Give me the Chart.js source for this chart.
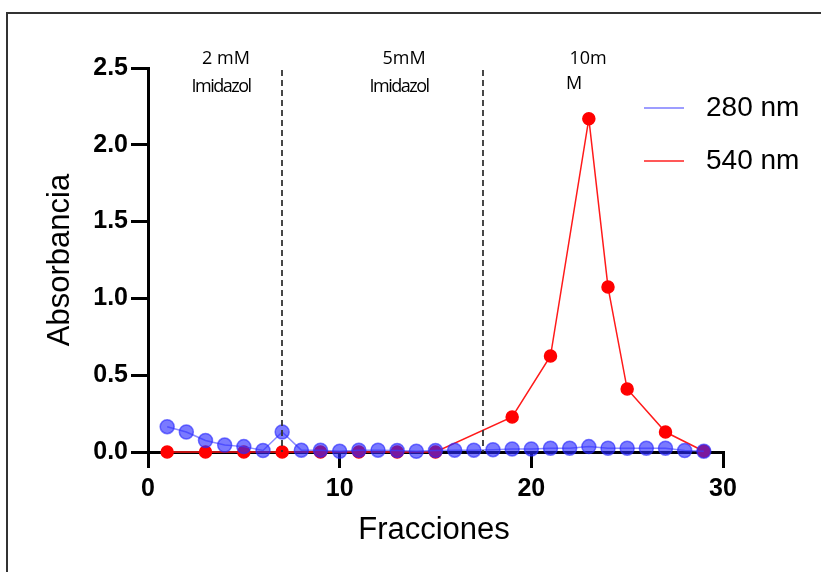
<!DOCTYPE html>
<html>
<head>
<meta charset="utf-8">
<script src="https://cdn.jsdelivr.net/npm/chart.js@4.4.1/dist/chart.umd.min.js"></script>
<style>
  html, body { margin: 0; padding: 0; background: #fff; }
  #wrap { width: 821px; height: 572px; position: relative; }
</style>
</head>
<body>
<div id="wrap"><canvas id="c" width="821" height="572"></canvas></div>
<script>
// fractions and absorbance readings
const fractions280 = [1, 2, 3, 4, 5, 6, 7, 8, 9, 10, 11, 12, 13, 14, 15, 16, 17, 18, 19, 20, 21, 22, 23, 24, 25, 26, 27, 28, 29]
const abs280 = [0.165, 0.13, 0.075, 0.045, 0.035, 0.01, 0.13, 0.012, 0.012, 0.005, 0.012, 0.012, 0.01, 0.005, 0.01, 0.012, 0.012, 0.015, 0.02, 0.02, 0.025, 0.025, 0.035, 0.025, 0.025, 0.025, 0.025, 0.01, 0.005]
const fractions540 = [1, 3, 5, 7, 9, 11, 13, 15, 19, 21, 23, 24, 25, 27, 29]
const abs540 = [0, 0, 0, 0, 0, 0, 0, 0, 0.228, 0.625, 2.17, 1.074, 0.41, 0.13, 0.005]
const yTicks = [0, 0.5, 1.0, 1.5, 2.0, 2.5]
const xTicks = [0, 10, 20, 30]
const dividers = [7, 17.5]
const seriesNames = ['280 nm', '540 nm']

const tickFont = { family: 'Liberation Sans, Arial, sans-serif', size: 25, weight: 'bold' }
const titleFont = '31px "Liberation Sans", Arial, sans-serif'

const toPoints = (xs, ys) => xs.map((x, i) => ({ x, y: ys[i] }))

const extras = {
  id: 'extras',
  beforeDraw(chart) {
    const ctx = chart.ctx
    ctx.save()
    ctx.strokeStyle = '#333'
    ctx.lineWidth = 2
    ctx.beginPath()
    ctx.moveTo(7, 572)
    ctx.lineTo(7, 13)
    ctx.lineTo(821, 13)
    ctx.stroke()
    ctx.restore()
  },
  afterDatasetsDraw(chart) {
    const ctx = chart.ctx
    const xs = chart.scales.x
    const ys = chart.scales.y
    ctx.save()
    ctx.strokeStyle = '#333'
    ctx.lineWidth = 1.8
    ctx.setLineDash([6, 4])
    dividers.forEach(d => {
      const px = Math.round(xs.getPixelForValue(d))
      ctx.beginPath()
      ctx.moveTo(px, ys.top + 2)
      ctx.lineTo(px, ys.bottom)
      ctx.stroke()
    })
    ctx.setLineDash([])

    // axis titles
    ctx.fillStyle = '#000'
    ctx.font = titleFont
    ctx.textAlign = 'center'
    ctx.textBaseline = 'middle'
    ctx.fillText('Fracciones', 434, 530)
    ctx.save()
    ctx.translate(60, 260)
    ctx.rotate(-Math.PI / 2)
    ctx.fillText('Absorbancia', 0, 0)
    ctx.restore()

    // region notes
    ctx.font = '18px "Open Sans", sans-serif'
    ctx.textAlign = 'center'
    ctx.fillText('2 mM', 226, 59)
    ctx.fillText('5mM', 404, 59)
    ctx.fillText('10m', 588, 59)
    ctx.textAlign = 'left'
    ctx.fillText('M', 566, 84)
    ctx.save()
    ctx.letterSpacing = '-1.5px'
    ctx.textAlign = 'center'
    ctx.fillText('Imidazol', 221, 87)
    ctx.fillText('Imidazol', 399, 87)
    ctx.restore()

    // legend
    const colors = ['rgba(110,110,255,0.9)', '#ff2020']
    const rows = [108, 161]
    ctx.font = '28px "Liberation Sans", Arial, sans-serif'
    ctx.textAlign = 'left'
    seriesNames.forEach((name, i) => {
      ctx.strokeStyle = colors[i]
      ctx.lineWidth = 1.5
      ctx.beginPath()
      ctx.moveTo(644, rows[i])
      ctx.lineTo(684, rows[i])
      ctx.stroke()
      ctx.fillStyle = '#000'
      ctx.fillText(name, 706, rows[i])
    })
    ctx.restore()
  }
}

new Chart(document.getElementById('c'), {
  type: 'line',
  data: {
    datasets: [
      {
        label: seriesNames[1],
        data: toPoints(fractions540, abs540),
        borderColor: '#ff1a1a',
        backgroundColor: '#ff0000',
        pointBackgroundColor: '#ff0000',
        pointBorderColor: '#ff0000',
        borderWidth: 1.5,
        pointRadius: 6,
        tension: 0,
        order: 2
      },
      {
        label: seriesNames[0],
        data: toPoints(fractions280, abs280),
        borderColor: 'rgba(90,90,255,0.7)',
        backgroundColor: 'rgba(40,40,255,0.62)',
        pointBackgroundColor: 'rgba(40,40,255,0.62)',
        pointBorderColor: 'rgba(40,40,255,0.62)',
        borderWidth: 1.5,
        pointRadius: 7,
        tension: 0,
        order: 1
      }
    ]
  },
  options: {
    responsive: false,
    animation: false,
    clip: false,
    layout: { padding: { left: 0, right: 98, top: 68, bottom: 0 } },
    plugins: { legend: { display: false }, tooltip: { enabled: false } },
    scales: {
      x: {
        type: 'linear',
        min: 0,
        max: 30,
        afterFit(s) { s.height = 120 },
        afterBuildTicks(s) { s.ticks = xTicks.map(v => ({ value: v })) },
        grid: { drawOnChartArea: false, color: '#000', lineWidth: 3, tickLength: 16 },
        border: { color: '#000', width: 3 },
        ticks: { color: '#000', font: tickFont, padding: 6 },
        title: { display: false }
      },
      y: {
        min: 0,
        max: 2.5,
        afterFit(s) { s.width = 148 },
        afterBuildTicks(s) { s.ticks = yTicks.map(v => ({ value: v })) },
        grid: { drawOnChartArea: false, color: '#000', lineWidth: 3, tickLength: 17 },
        border: { color: '#000', width: 3 },
        ticks: { color: '#000', font: tickFont, padding: 3, callback: v => v.toFixed(1) },
        title: { display: false }
      }
    }
  },
  plugins: [extras]
})
</script>
</body>
</html>
